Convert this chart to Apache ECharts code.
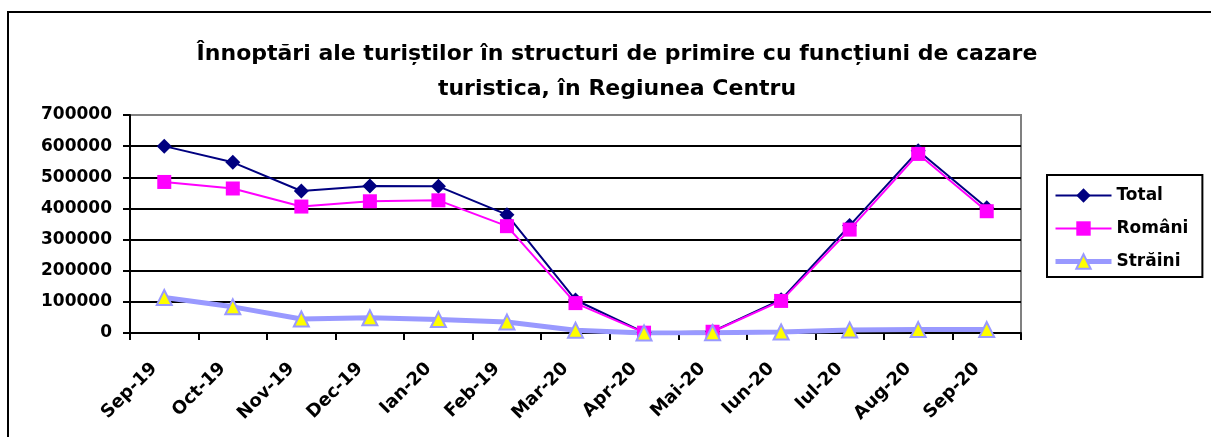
<!DOCTYPE html>
<html>
<head>
<meta charset="utf-8">
<script src="https://cdn.jsdelivr.net/npm/echarts@6/dist/echarts.min.js"></script>
<style>
  html, body { margin: 0; padding: 0; background: #fff; }
  #chart { width: 1211px; height: 437px; }
</style>
</head>
<body>
<div id="chart"></div>
<script>
  "use strict";
  var months = ['Sep-19', 'Oct-19', 'Nov-19', 'Dec-19', 'Ian-20', 'Feb-19', 'Mar-20',
    'Apr-20', 'Mai-20', 'Iun-20', 'Iul-20', 'Aug-20', 'Sep-20'];
  var total = [600000, 548000, 456000, 472000, 471000, 380000, 106000, 2000, 5000, 107000, 345000, 585000, 402000];
  var romani = [485000, 464000, 406000, 423000, 426000, 343000, 96000, 1000, 4000, 103000, 332000, 575000, 391000];
  var straini = [114000, 84000, 45000, 49000, 43000, 35000, 9000, 0, 1000, 3000, 10000, 11000, 11000];
  var yTicks = [0, 100000, 200000, 300000, 400000, 500000, 600000, 700000];

  var font = '"DejaVu Sans", Arial, sans-serif';
  // top gridline sits on the plot border, which is grey
  var gridColors = yTicks.map(function (v, i) { return i === yTicks.length - 1 ? '#808080' : '#000'; });

  var chart = echarts.init(document.getElementById('chart'));
  chart.setOption({
    backgroundColor: '#fff',
    animation: false,
    textStyle: { fontFamily: font, color: '#000' },
    title: {
      text: 'Înnoptări ale turiștilor în structuri de primire cu funcțiuni de cazare\nturistica, în Regiunea Centru',
      left: 612,
      textAlign: 'center',
      top: 32,
      textStyle: { fontFamily: font, fontWeight: 'bold', fontSize: 22, lineHeight: 35, color: '#000' }
    },
    graphic: [{
      type: 'rect',
      shape: { x: 8, y: 12, width: 1400, height: 600 },
      style: { fill: 'none', stroke: '#000', lineWidth: 2 },
      silent: true
    }],
    grid: {
      left: 130, right: 190, top: 115, bottom: 104,
      show: true, borderColor: '#808080', borderWidth: 2, backgroundColor: '#fff'
    },
    legend: {
      orient: 'vertical',
      left: 1047, top: 175,
      padding: [12, 14, 7, 6],
      itemWidth: 56, itemHeight: 18, itemGap: 16,
      borderColor: '#000', borderWidth: 2,
      textStyle: { fontFamily: font, fontWeight: 'bold', fontSize: 17, color: '#000' },
      data: [
        { name: 'Total' },
        { name: 'Români' },
        { name: 'Străini', lineStyle: { width: 5, color: '#9999FF' } }
      ]
    },
    xAxis: {
      type: 'category',
      data: months,
      boundaryGap: true,
      axisLine: { lineStyle: { color: '#000', width: 2 } },
      axisTick: { show: true, length: 7, lineStyle: { color: '#000', width: 2 } },
      axisLabel: {
        interval: 0, rotate: 45, margin: 23, padding: [0, 14, 0, 0],
        fontFamily: font, fontWeight: 'bold', fontSize: 18, color: '#000'
      },
      splitLine: { show: false }
    },
    yAxis: {
      type: 'value',
      min: 0, max: 700000, interval: 100000,
      axisLine: { show: true, lineStyle: { color: '#000', width: 2 } },
      axisTick: { show: true, length: 7, lineStyle: { color: '#000', width: 2 } },
      axisLabel: {
        margin: 18, fontFamily: font, fontWeight: 'bold', fontSize: 17, color: '#000',
        formatter: function (v) { return String(v); }
      },
      splitLine: { show: true, lineStyle: { color: gridColors, width: 2 } }
    },
    series: [{
      name: 'Total', type: 'line', data: total,
      symbol: 'diamond', symbolSize: 15,
      lineStyle: { color: '#000080', width: 2 },
      itemStyle: { color: '#000080' }
    }, {
      name: 'Români', type: 'line', data: romani,
      symbol: 'rect', symbolSize: 14,
      lineStyle: { color: '#FF00FF', width: 2 },
      itemStyle: { color: '#FF00FF' }
    }, {
      name: 'Străini', type: 'line', data: straini,
      symbol: 'triangle', symbolSize: 15,
      lineStyle: { color: '#9999FF', width: 5 },
      itemStyle: { color: '#FFFF00', borderColor: '#9999FF', borderWidth: 2 }
    }]
  });
</script>
</body>
</html>
